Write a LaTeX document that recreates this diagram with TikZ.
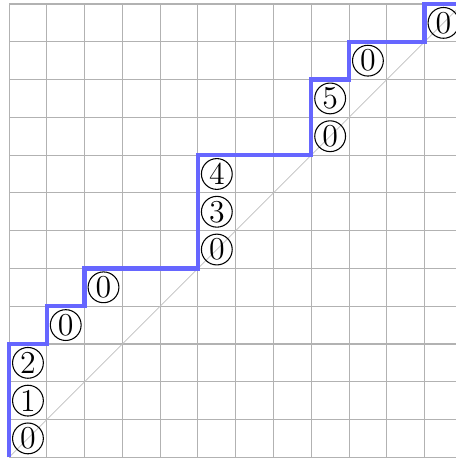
\documentclass[tikz,border=0pt]{standalone}
\usetikzlibrary{positioning}

\begin{document}
\begin{tikzpicture}[
    x=0.5cm, y=0.5cm,
    gridline/.style={draw=gray!60, line width=0.4pt},
    diag/.style={draw=gray!50, line width=0.3pt},
    lattice/.style={draw=blue!60, line width=1.6pt},
    lab/.style={circle, draw, thin, inner sep=0pt, minimum size=11.6pt, font=\large}
]

% Visible window
\clip (-0.24,-0.045) rectangle (11.83,12.106);

% Grid and diagonal
\draw[gridline, step=1] (0,0) grid (12,12);
\coordinate (o) at (0,0);
\coordinate (e) at (12,12);
\draw[diag] (o) -- (e);

% Lattice path
\draw[lattice] (o) -- (0,3) -- (1,3) -- (1,4) -- (2,4) -- (2,5) -- (5,5)
    -- (5,8) -- (8,8) -- (8,10) -- (9,10) -- (9,11) -- (11,11) -- (11,12) -- (e);

% Labels of the vertical steps
\node[lab] (a0) at (0.5,0.5) {0};
\node[lab] (a1) at (0.5,1.5) {1};
\node[lab] (a2) at (0.5,2.5) {2};
\node[lab] (b0) at (1.5,3.5) {0};
\node[lab] (c0) at (2.5,4.5) {0};
\node[lab] (d0) at (5.5,5.5) {0};
\node[lab] (d1) at (5.5,6.5) {3};
\node[lab] (d2) at (5.5,7.5) {4};
\node[lab] (f0) at (8.5,8.5) {0};
\node[lab] (f1) at (8.5,9.5) {5};
\node[lab] (g0) at (9.5,10.5) {0};
\node[lab] (h0) at (11.5,11.5) {0};

\end{tikzpicture}
\end{document}
